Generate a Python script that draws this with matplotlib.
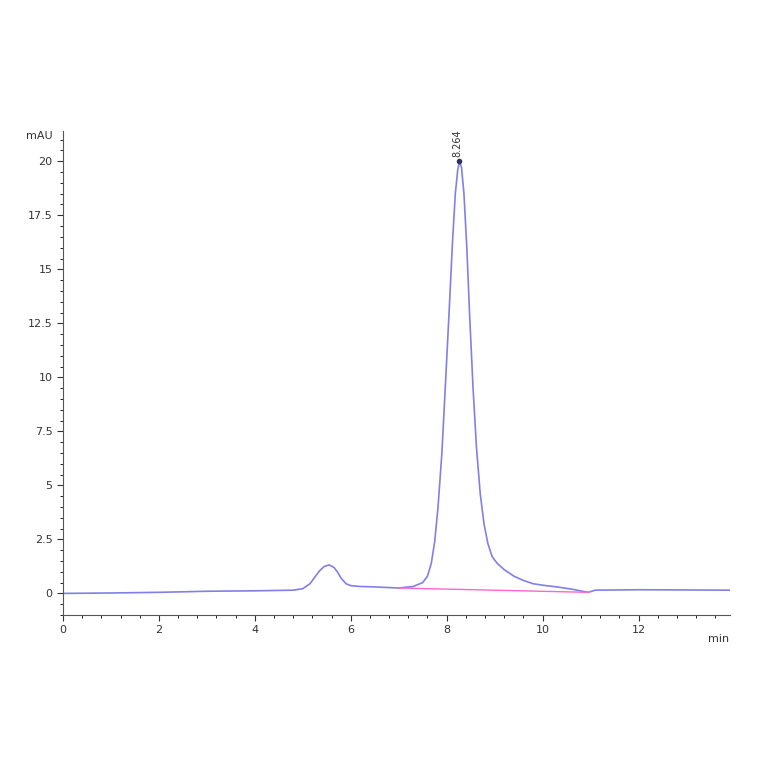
import matplotlib
matplotlib.use("Agg")
import matplotlib.pyplot as plt
from matplotlib.ticker import MultipleLocator

time_min = [0, 1, 2, 3, 4, 4.8, 5.0, 5.15, 5.25, 5.35, 5.45, 5.55, 5.65, 5.72, 5.8, 5.9, 6.0, 6.2,
            6.5, 7.0, 7.3, 7.5, 7.6, 7.68, 7.75, 7.82, 7.9, 7.97, 8.05, 8.12, 8.18, 8.23, 8.27, 8.31,
            8.36, 8.42, 8.48, 8.55, 8.62, 8.7, 8.78, 8.86, 8.95, 9.05, 9.2, 9.4, 9.6, 9.8, 10.0,
            10.3, 10.6, 10.95, 11.1, 12, 13.9]
signal_mau = [0.0, 0.02, 0.05, 0.1, 0.12, 0.15, 0.22, 0.45, 0.75, 1.05, 1.25, 1.32, 1.2, 1.0, 0.7,
              0.45, 0.36, 0.32, 0.3, 0.25, 0.32, 0.5, 0.8, 1.4, 2.4, 4.0, 6.5, 9.5, 13.0, 16.2,
              18.5, 19.6, 20.0, 19.7, 18.5, 16.0, 12.8, 9.5, 6.8, 4.6, 3.2, 2.3, 1.7, 1.4, 1.1,
              0.8, 0.6, 0.45, 0.38, 0.3, 0.2, 0.05, 0.15, 0.17, 0.15]
baseline_t = [7.0, 10.95]
baseline_y = [0.25, 0.05]
peak_label = "8.264"
peak_t, peak_y = 8.264, 20.0

fig = plt.figure(figsize=(7.64, 7.64), dpi=100)
ax = fig.add_axes([0.0825, 0.195, 0.8725, 0.6335])
ax.plot(time_min, signal_mau, color="#8080e8", lw=1.2)
ax.plot(baseline_t, baseline_y, color="#ff66cc", lw=1.0)
ax.plot([peak_t], [peak_y], marker="o", ms=3, color="#303060")
ax.text(peak_t - 0.05, peak_y + 0.2, peak_label, rotation=90, fontsize=7, ha="center", va="bottom", color="#333")
ax.set_xlim(0, 13.9)
ax.set_ylim(-1.0, 21.4)
ax.xaxis.set_minor_locator(MultipleLocator(0.4))
ax.yaxis.set_minor_locator(MultipleLocator(0.5))
ax.set_xticks([0, 2, 4, 6, 8, 10, 12])
ax.set_yticks([0, 2.5, 5, 7.5, 10, 12.5, 15, 17.5, 20])
ax.set_yticklabels(["0", "2.5", "5", "7.5", "10", "12.5", "15", "17.5", "20"])
for s in ["top", "right"]:
    ax.spines[s].set_visible(False)
for s in ["left", "bottom"]:
    ax.spines[s].set_color("#555")
ax.tick_params(labelsize=8, colors="#333", direction="out", length=4)
ax.tick_params(which="minor", length=2)
ax.text(-0.015, 1.0, "mAU", transform=ax.transAxes, fontsize=8, ha="right", va="top", color="#333")
ax.text(1.0, -0.04, "min", transform=ax.transAxes, fontsize=8, ha="right", va="top", color="#333")
fig.savefig("out.png", dpi=100)
